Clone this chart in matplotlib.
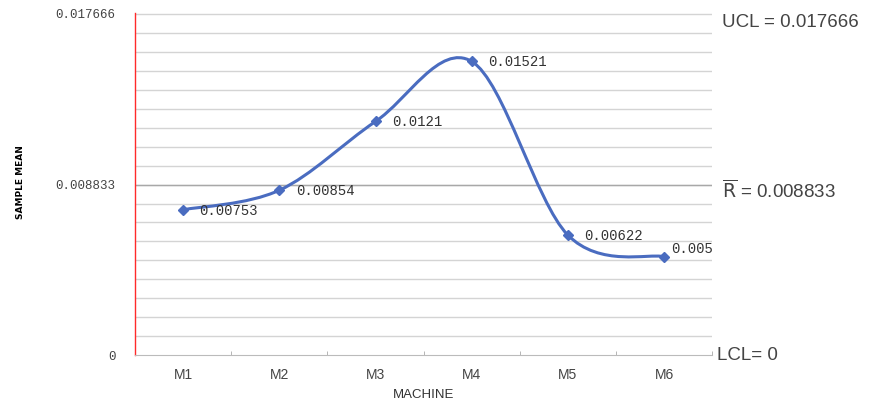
import numpy as np
import matplotlib
matplotlib.use("Agg")
import matplotlib.pyplot as plt
from matplotlib.path import Path
from matplotlib.patches import PathPatch

machines = ["M1", "M2", "M3", "M4", "M5", "M6"]
means = [0.00753, 0.00854, 0.0121, 0.01521, 0.00622, 0.0051]
labels = ["0.00753", "0.00854", "0.0121", "0.01521", "0.00622", "0.0051"]
ucl, rbar, lcl = 0.017666, 0.008833, 0.0

LINE = "#4a6cc0"

fig = plt.figure(figsize=(8.89, 4.05), dpi=100)
ax = fig.add_axes([0.152, 0.123, 0.649, 0.845])

x = np.arange(len(machines))
y = np.array(means)

# grid: 18 steps between LCL and UCL, centre line darker
for g in np.linspace(lcl, ucl, 19)[1:]:
    ax.axhline(g, color="#d4d4d4", lw=1.0, zorder=0)
ax.axhline(rbar, color="#a8a8a8", lw=1.0, zorder=0)

# smoothed line (Catmull-Rom -> cubic Bezier), like Excel's smooth line
xp = np.concatenate([[x[0]], x, [x[-1]]])
yp = np.concatenate([[y[0]], y, [y[-1]]])
verts = [(x[0], y[0])]
codes = [Path.MOVETO]
k = 1 / 6
for i in range(1, len(xp) - 2):
    c1 = (xp[i] + (xp[i + 1] - xp[i - 1]) * k, yp[i] + (yp[i + 1] - yp[i - 1]) * k)
    c2 = (xp[i + 1] - (xp[i + 2] - xp[i]) * k, yp[i + 1] - (yp[i + 2] - yp[i]) * k)
    verts += [c1, c2, (xp[i + 1], yp[i + 1])]
    codes += [Path.CURVE4] * 3
ax.add_patch(PathPatch(Path(verts, codes), fc="none", ec=LINE, lw=2.2, zorder=3))
ax.plot(x, y, ls="none", marker="D", ms=5, color=LINE, zorder=4)

for xi, yi, lab in zip(x, y, labels):
    dy = 0.00042 if lab == "0.0051" else -0.00005
    dx = 0.07 if lab == "0.0051" else 0.17
    ax.text(xi + dx, yi + dy, lab, fontsize=10, family="Liberation Mono",
            color="#333333", va="center", ha="left", zorder=5, clip_on=True)

ax.set_xlim(-0.5, len(machines) - 0.5)
ax.set_ylim(lcl, ucl * 1.003)
ax.set_xticks(x)
ax.set_xticklabels(machines, fontsize=10, family="Liberation Sans", color="#444444")
ax.set_xticks(np.arange(-0.5, len(machines)), minor=True)
ax.tick_params(axis="x", which="major", length=0, pad=9)
ax.tick_params(axis="x", which="minor", length=3, color="#aaaaaa", direction="in")
ax.set_yticks([lcl, rbar, ucl])
ax.set_yticklabels(["0", "0.008833", "0.017666"], fontsize=9,
                   family="Liberation Mono", color="#444444")
ax.tick_params(axis="y", length=0, pad=14)

for s in ["top", "right"]:
    ax.spines[s].set_visible(False)
ax.spines["left"].set_color("#ff2a2a")
ax.spines["left"].set_linewidth(1.0)
ax.spines["bottom"].set_color("#bbbbbb")

ax.set_xlabel("MACHINE", fontsize=9.5, family="Liberation Sans", color="#333333",
              labelpad=5)
fig.text(0.023, 0.55, "SAMPLE MEAN", rotation=90, fontsize=6.5, weight="bold",
         family="Liberation Sans Narrow", va="center", ha="center")

fig.text(0.812, 0.945, "UCL = 0.017666", fontsize=13.5, family="Liberation Sans",
         color="#444444", va="center")
fig.text(0.812, 0.530, r"$\overline{\mathrm{R}}$ = 0.008833", fontsize=13.5,
         family="Liberation Sans", color="#444444", va="center")
fig.text(0.806, 0.123, "LCL= 0", fontsize=13.5, family="Liberation Sans",
         color="#444444", va="center")

fig.savefig("out.png", dpi=100)
